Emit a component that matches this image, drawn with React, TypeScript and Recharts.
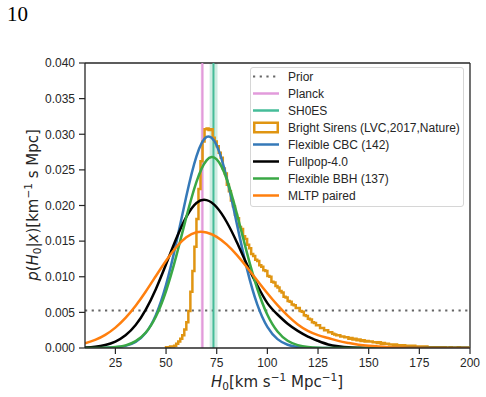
import React from 'react';
import { LineChart, Line, XAxis, YAxis, ReferenceArea, ReferenceLine } from 'recharts';

// H0 grid (km/s/Mpc) on which the smooth posteriors are sampled
const H0_GRID = [
  10, 15, 20, 25, 30, 35, 40, 45, 50, 55, 60, 65, 70, 75, 80, 85, 90, 95, 100,
  105, 110, 115, 120, 125, 130, 135, 140, 145, 150, 155, 160, 165, 170, 175,
  180, 185, 190, 195, 200,
];

const FLEXIBLE_CBC = [
  0.0, 0.0, 0.00002, 0.00009, 0.0003, 0.00085, 0.00213, 0.00465, 0.00886,
  0.01472, 0.02131, 0.02691, 0.02962, 0.02842, 0.02378, 0.01735, 0.01103,
  0.00612, 0.00296, 0.00125, 0.00046, 0.00015, 0.00004, 0.00001, 0, 0, 0, 0,
  0, 0, 0, 0, 0, 0, 0, 0, 0, 0, 0,
];

const FULLPOP = [
  0.00007, 0.00018, 0.00042, 0.0009, 0.00178, 0.00322, 0.00539, 0.00829,
  0.01175, 0.01532, 0.01841, 0.02036, 0.02075, 0.01975, 0.01765, 0.01481,
  0.01167, 0.0088, 0.0063, 0.0047, 0.0034, 0.0024, 0.0016, 0.001, 0.0005,
  0.00025, 0.0001, 0.00004, 0, 0, 0, 0, 0, 0, 0, 0, 0, 0, 0,
];

const FLEXIBLE_BBH = [
  0.000003, 0.000011, 0.00004, 0.00013, 0.00037, 0.00096, 0.00218, 0.00443,
  0.008, 0.01285, 0.01836, 0.02332, 0.02634, 0.02647, 0.02365, 0.01879,
  0.01328, 0.00835, 0.00467, 0.00232, 0.00102, 0.0004, 0.00014, 0.00004,
  0.00001, 0, 0, 0, 0, 0, 0, 0, 0, 0, 0, 0, 0, 0, 0,
];

const MLTP_PAIRED = [
  0.00066, 0.00113, 0.00184, 0.00286, 0.00422, 0.00593, 0.00793, 0.01011,
  0.01225, 0.01414, 0.01553, 0.01624, 0.0162, 0.0156, 0.0145, 0.01303,
  0.01131, 0.00948, 0.00768, 0.00601, 0.00454, 0.0033, 0.0024, 0.0018,
  0.0014, 0.001, 0.0007, 0.00045, 0.0003, 0.0002, 0.00012, 0.00007, 0.00004,
  0.00002, 0.00001, 0, 0, 0, 0,
];

// Bright-siren (GW170817) histogram: 1 km/s/Mpc bins starting at 50
const BRIGHT_FIRST_EDGE = 50;
const BRIGHT_BIN_WIDTH = 1;
const BRIGHT_SIRENS = [
  0.0001, 0.0001, 0.0002, 0.0002, 0.0003, 0.0006, 0.0009, 0.0013, 0.0018, 0.0026,
  0.0036, 0.0052, 0.0079, 0.0108, 0.0142, 0.0181, 0.0223, 0.0262, 0.029, 0.0307,
  0.0308, 0.0306, 0.0307, 0.0295, 0.029, 0.0283, 0.0274, 0.0267, 0.0252, 0.0245,
  0.0229, 0.022, 0.0207, 0.0199, 0.0187, 0.0182, 0.017, 0.0167, 0.0157, 0.0153,
  0.0145, 0.014, 0.0132, 0.0129, 0.0124, 0.0122, 0.0116, 0.0114, 0.0109, 0.0108,
  0.0101, 0.01, 0.0093, 0.0092, 0.0087, 0.0085, 0.008, 0.0078, 0.0072, 0.0071,
  0.0066, 0.0065, 0.0061, 0.006, 0.0056, 0.0056, 0.0052, 0.0051, 0.0046, 0.0045,
  0.0041, 0.004, 0.0036, 0.0035, 0.0032, 0.0032, 0.0028, 0.0028, 0.0025, 0.0025,
  0.0022, 0.0022, 0.002, 0.0019, 0.0018, 0.0018, 0.0016, 0.0016, 0.0015, 0.0015,
  0.0013, 0.0014, 0.0012, 0.0013, 0.0011, 0.0012, 0.001, 0.0011, 0.0009, 0.001,
  0.0009, 0.0009, 0.0008, 0.0008, 0.0007, 0.0008, 0.0006, 0.0007, 0.0006, 0.0006,
  0.0005, 0.0005, 0.0004, 0.0005, 0.0004, 0.0004, 0.0003, 0.0004, 0.0003, 0.0003,
  0.0003, 0.0002, 0.0003, 0.0002, 0.0002, 0.0002, 0.0002, 0.0001, 0.0002, 0.0001,
  0.0001, 0.0001, 0.0001, 0.00005, 0.0001, 0.0001, 0.00005, 0.0001, 0.00005, 0.00005,
  0.0001, 0.00005, 0.00005, 0.00005, 0.0001, 0.00005, 0.00005, 0.00005, 0.00005, 0.00005,
];

// Uniform prior on [10, 200]
const PRIOR_RANGE = [10, 200];
const PRIOR_DENSITY = 0.00526;

// External measurements: central value and shaded span
const PLANCK = { h0: 67.9, lo: 67.1, hi: 68.7 };
const SHOES = { h0: 73.4, lo: 71.5, hi: 75.4 };

const X_TICKS = [25, 50, 75, 100, 125, 150, 175, 200];
const Y_TICKS = [0, 0.005, 0.01, 0.015, 0.02, 0.025, 0.03, 0.035, 0.04];
const Y_RANGE = [0, 0.04];

const COLORS = {
  prior: '#666666',
  planck: '#e29bdb',
  planckBand: '#f4dcf1',
  shoes: '#45bc99',
  shoesBand: '#cfece2',
  bright: '#e09512',
  cbc: '#3579b8',
  fullpop: '#000000',
  bbh: '#3aa845',
  mltp: '#ff7f0e',
  ink: '#262626',
};

const toSeries = (xs: number[], ys: number[]) => xs.map((h, i) => ({ h, p: ys[i] }));

const cbcData = toSeries(H0_GRID, FLEXIBLE_CBC);
const fullpopData = toSeries(H0_GRID, FULLPOP);
const bbhData = toSeries(H0_GRID, FLEXIBLE_BBH);
const mltpData = toSeries(H0_GRID, MLTP_PAIRED);
const priorData = PRIOR_RANGE.map((h) => ({ h, p: PRIOR_DENSITY }));
const planckLine = Y_RANGE.map((p) => ({ h: PLANCK.h0, p }));
const shoesLine = Y_RANGE.map((p) => ({ h: SHOES.h0, p }));
const brightData = [
  { h: BRIGHT_FIRST_EDGE, p: 0 },
  ...BRIGHT_SIRENS.map((p, i) => ({ h: BRIGHT_FIRST_EDGE + i * BRIGHT_BIN_WIDTH, p })),
  {
    h: BRIGHT_FIRST_EDGE + BRIGHT_SIRENS.length * BRIGHT_BIN_WIDTH,
    p: BRIGHT_SIRENS[BRIGHT_SIRENS.length - 1],
  },
];

const LEGEND_ITEMS = [
  { key: 'prior', label: 'Prior' },
  { key: 'planck', label: 'Planck' },
  { key: 'shoes', label: 'SH0ES' },
  { key: 'bright', label: 'Bright Sirens (LVC,2017,Nature)' },
  { key: 'cbc', label: 'Flexible CBC (142)' },
  { key: 'fullpop', label: 'Fullpop-4.0' },
  { key: 'bbh', label: 'Flexible BBH (137)' },
  { key: 'mltp', label: 'MLTP paired' },
];

const tickFont = { fill: COLORS.ink, fontSize: 12, fontFamily: '"Liberation Sans", Arial, sans-serif' };
const sharedLine = { dot: false, activeDot: false, isAnimationActive: false } as const;

function LegendHandle({ kind }: { kind: string }) {
  if (kind === 'bright') {
    return (
      <svg width={26} height={17}>
        <rect x={1.25} y={3.75} width={23.5} height={9.5} fill="#fff" stroke={COLORS.bright} strokeWidth={2.5} />
      </svg>
    );
  }
  if (kind === 'prior') {
    return (
      <svg width={26} height={17}>
        <line x1={0} y1={8.5} x2={26} y2={8.5} stroke={COLORS.prior} strokeWidth={2.2} strokeDasharray="2.2 4.5" />
      </svg>
    );
  }
  const color = (COLORS as Record<string, string>)[kind];
  return (
    <svg width={26} height={17}>
      <line x1={0} y1={8.5} x2={26} y2={8.5} stroke={color} strokeWidth={2.5} />
    </svg>
  );
}

export default function App() {
  return (
    <div style={{ position: 'absolute', left: 0, top: 0, width: 486, height: 397, background: '#fff' }}>
      <LineChart width={486} height={397} margin={{ top: 63, right: 16, bottom: 19, left: 25 }}>
        <XAxis
          dataKey="h"
          type="number"
          domain={[10, 200]}
          ticks={X_TICKS}
          allowDataOverflow
          height={30}
          tick={tickFont}
          tickSize={6}
          tickMargin={4}
          tickLine={{ stroke: COLORS.ink, strokeWidth: 1.2 }}
          axisLine={{ stroke: COLORS.ink, strokeWidth: 1.3 }}
        />
        <YAxis
          type="number"
          domain={Y_RANGE}
          ticks={Y_TICKS}
          allowDataOverflow
          width={60}
          tick={tickFont}
          tickSize={6}
          tickMargin={4}
          tickFormatter={(v: number) => v.toFixed(3)}
          tickLine={{ stroke: COLORS.ink, strokeWidth: 1.2 }}
          axisLine={{ stroke: COLORS.ink, strokeWidth: 1.3 }}
        />
        <ReferenceArea x1={PLANCK.lo} x2={PLANCK.hi} y1={0} y2={0.04} fill={COLORS.planckBand} fillOpacity={1} stroke="none" />
        <ReferenceArea x1={SHOES.lo} x2={SHOES.hi} y1={0} y2={0.04} fill={COLORS.shoesBand} fillOpacity={1} stroke="none" />
        <ReferenceLine y={0.04} stroke={COLORS.ink} strokeWidth={1.3} />
        <ReferenceLine x={200} stroke={COLORS.ink} strokeWidth={1.3} />

        <Line {...sharedLine} data={priorData} dataKey="p" type="linear" stroke={COLORS.prior} strokeWidth={2.2} strokeDasharray="2.2 4.47" />
        <Line {...sharedLine} data={planckLine} dataKey="p" type="linear" stroke={COLORS.planck} strokeWidth={2} />
        <Line {...sharedLine} data={shoesLine} dataKey="p" type="linear" stroke={COLORS.shoes} strokeWidth={2} />
        <Line {...sharedLine} data={brightData} dataKey="p" type="stepAfter" stroke={COLORS.bright} strokeWidth={2.5} />
        <Line {...sharedLine} data={cbcData} dataKey="p" type="natural" stroke={COLORS.cbc} strokeWidth={2.5} />
        <Line {...sharedLine} data={fullpopData} dataKey="p" type="natural" stroke={COLORS.fullpop} strokeWidth={2.5} />
        <Line {...sharedLine} data={bbhData} dataKey="p" type="natural" stroke={COLORS.bbh} strokeWidth={2.5} />
        <Line {...sharedLine} data={mltpData} dataKey="p" type="natural" stroke={COLORS.mltp} strokeWidth={2.5} />
      </LineChart>

      <svg width={486} height={397} style={{ position: 'absolute', left: 0, top: 0, pointerEvents: 'none' }}>
        <text x={7} y={20.5} fontFamily='"Liberation Serif", "DejaVu Serif", serif' fontSize={21} fill="#000">10</text>
        <text x={277} y={387} textAnchor="middle" fontFamily='"DejaVu Sans", sans-serif' fontSize={15} fill={COLORS.ink}>
          <tspan fontStyle="italic">H</tspan>
          <tspan fontSize={10.5} dy={3}>0</tspan>
          <tspan dy={-3}>[km s</tspan>
          <tspan fontSize={10.5} dy={-6}>−1</tspan>
          <tspan dy={6}> Mpc</tspan>
          <tspan fontSize={10.5} dy={-6}>−1</tspan>
          <tspan dy={6}>]</tspan>
        </text>
        <text transform="translate(38,205) rotate(-90)" textAnchor="middle" fontFamily='"DejaVu Sans", sans-serif' fontSize={15} fill={COLORS.ink}>
          <tspan fontStyle="italic">p</tspan>
          <tspan>(</tspan>
          <tspan fontStyle="italic">H</tspan>
          <tspan fontSize={10.5} dy={3}>0</tspan>
          <tspan dy={-3}>|</tspan>
          <tspan fontStyle="italic">x</tspan>
          <tspan>)[km</tspan>
          <tspan fontSize={10.5} dy={-6}>−1</tspan>
          <tspan dy={6}> s Mpc]</tspan>
        </text>
      </svg>

      <div
        style={{
          position: 'absolute',
          left: 250,
          top: 67,
          width: 214,
          height: 140,
          boxSizing: 'border-box',
          border: '1px solid #d6d6d6',
          borderRadius: 3,
          background: 'rgba(255,255,255,0.85)',
          fontFamily: '"Liberation Sans", Arial, sans-serif',
          fontSize: 12,
          color: COLORS.ink,
        }}
      >
        {LEGEND_ITEMS.map((item) => (
          <div key={item.key} style={{ height: 17, display: 'flex', alignItems: 'center', whiteSpace: 'nowrap' }}>
            <div style={{ marginLeft: 2, marginRight: 9, width: 26, height: 17, flex: 'none' }}>
              <LegendHandle kind={item.key} />
            </div>
            <span>{item.label}</span>
          </div>
        ))}
      </div>
    </div>
  );
}
